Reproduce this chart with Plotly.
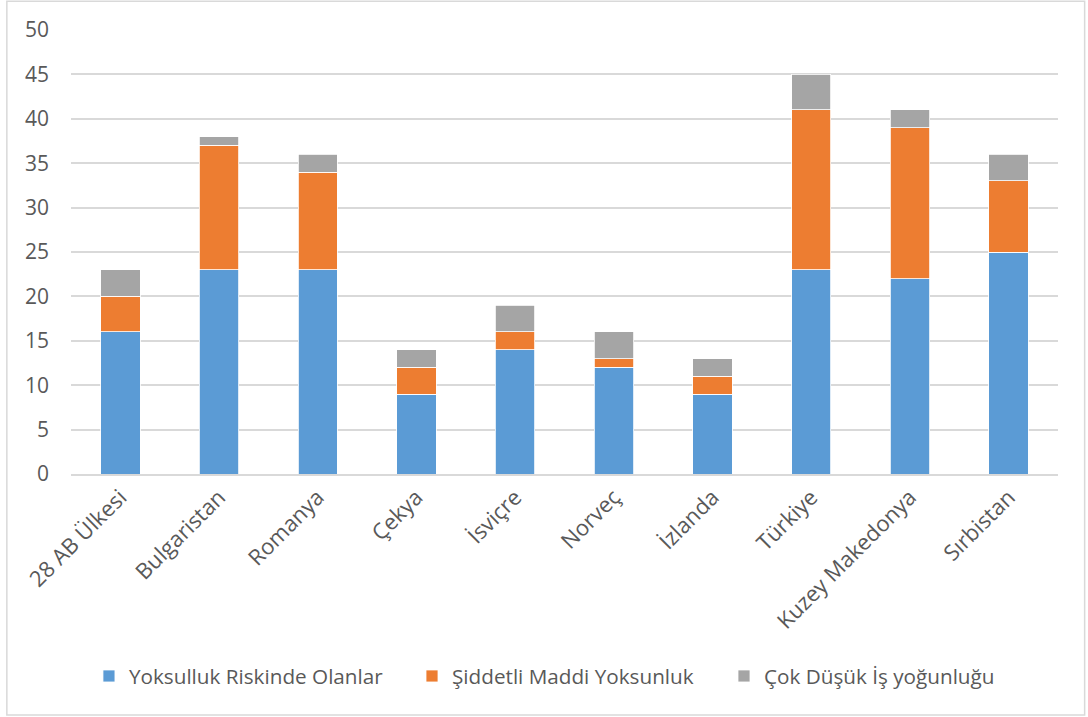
import plotly.graph_objects as go

# Kategoriler ve göstergeler (%)
ulkeler = ["28 AB Ülkesi", "Bulgaristan", "Romanya", "Çekya", "İsviçre",
           "Norveç", "İzlanda", "Türkiye", "Kuzey Makedonya", "Sırbistan"]
yoksulluk_riski = [16, 23, 23, 9, 14, 12, 9, 23, 22, 25]
maddi_yoksunluk = [4, 14, 11, 3, 2, 1, 2, 18, 17, 8]
dusuk_is_yogunlugu = [3, 1, 2, 2, 3, 3, 2, 4, 2, 3]

seri_adlari = ["Yoksulluk Riskinde Olanlar", "Şiddetli Maddi Yoksunluk",
               "Çok Düşük İş yoğunluğu"]
renkler = ["#5B9BD5", "#ED7D31", "#A5A5A5"]
# each series gets its own legend box so the entries can be spaced freely
legend_adlari = ["legend", "legend2", "legend3"]
legend_x = [0.0182, 0.3455, 0.6616]

fig = go.Figure()
for ad, degerler, renk, lg in zip(seri_adlari,
                                  [yoksulluk_riski, maddi_yoksunluk, dusuk_is_yogunlugu],
                                  renkler, legend_adlari):
    fig.add_trace(go.Bar(
        x=ulkeler, y=degerler, name=ad, legend=lg, showlegend=True,
        marker=dict(color=renk, line=dict(color="#FFFFFF", width=0.8)),
    ))

font_ailesi = "Open Sans, Noto Sans, sans-serif"
legend_ortak = dict(
    orientation="h", xanchor="left", y=-0.455, yanchor="middle",
    font=dict(size=20.7, color="#595959"), itemwidth=30,
    bgcolor="rgba(0,0,0,0)",
)
fig.update_layout(
    showlegend=True,
    barmode="stack",
    bargap=0.6,
    width=1088, height=717,
    margin=dict(l=71, r=30, t=30, b=243),
    paper_bgcolor="white",
    plot_bgcolor="white",
    font=dict(family=font_ailesi, size=20, color="#595959"),
    xaxis=dict(
        tickangle=-45,
        showline=True, linecolor="#D9D9D9", linewidth=1.5,
        showgrid=False, ticks="",
        tickfont=dict(size=22, color="#595959"),
    ),
    yaxis=dict(
        range=[0, 50], dtick=5,
        showgrid=True, gridcolor="#D9D9D9", gridwidth=1.5,
        zeroline=False, showline=False, ticks="",
        ticklabelstandoff=21,
        tickfont=dict(size=21, color="#595959"),
    ),
    legend=dict(x=legend_x[0], **legend_ortak),
    legend2=dict(x=legend_x[1], **legend_ortak),
    legend3=dict(x=legend_x[2], **legend_ortak),
    shapes=[dict(
        type="rect", xref="paper", yref="paper",
        x0=-0.065, x1=1.027, y0=-0.543, y1=1.065,
        line=dict(color="#D9D9D9", width=1.5), fillcolor="rgba(0,0,0,0)",
        layer="below",
    )],
)

fig.write_html("out.html")
